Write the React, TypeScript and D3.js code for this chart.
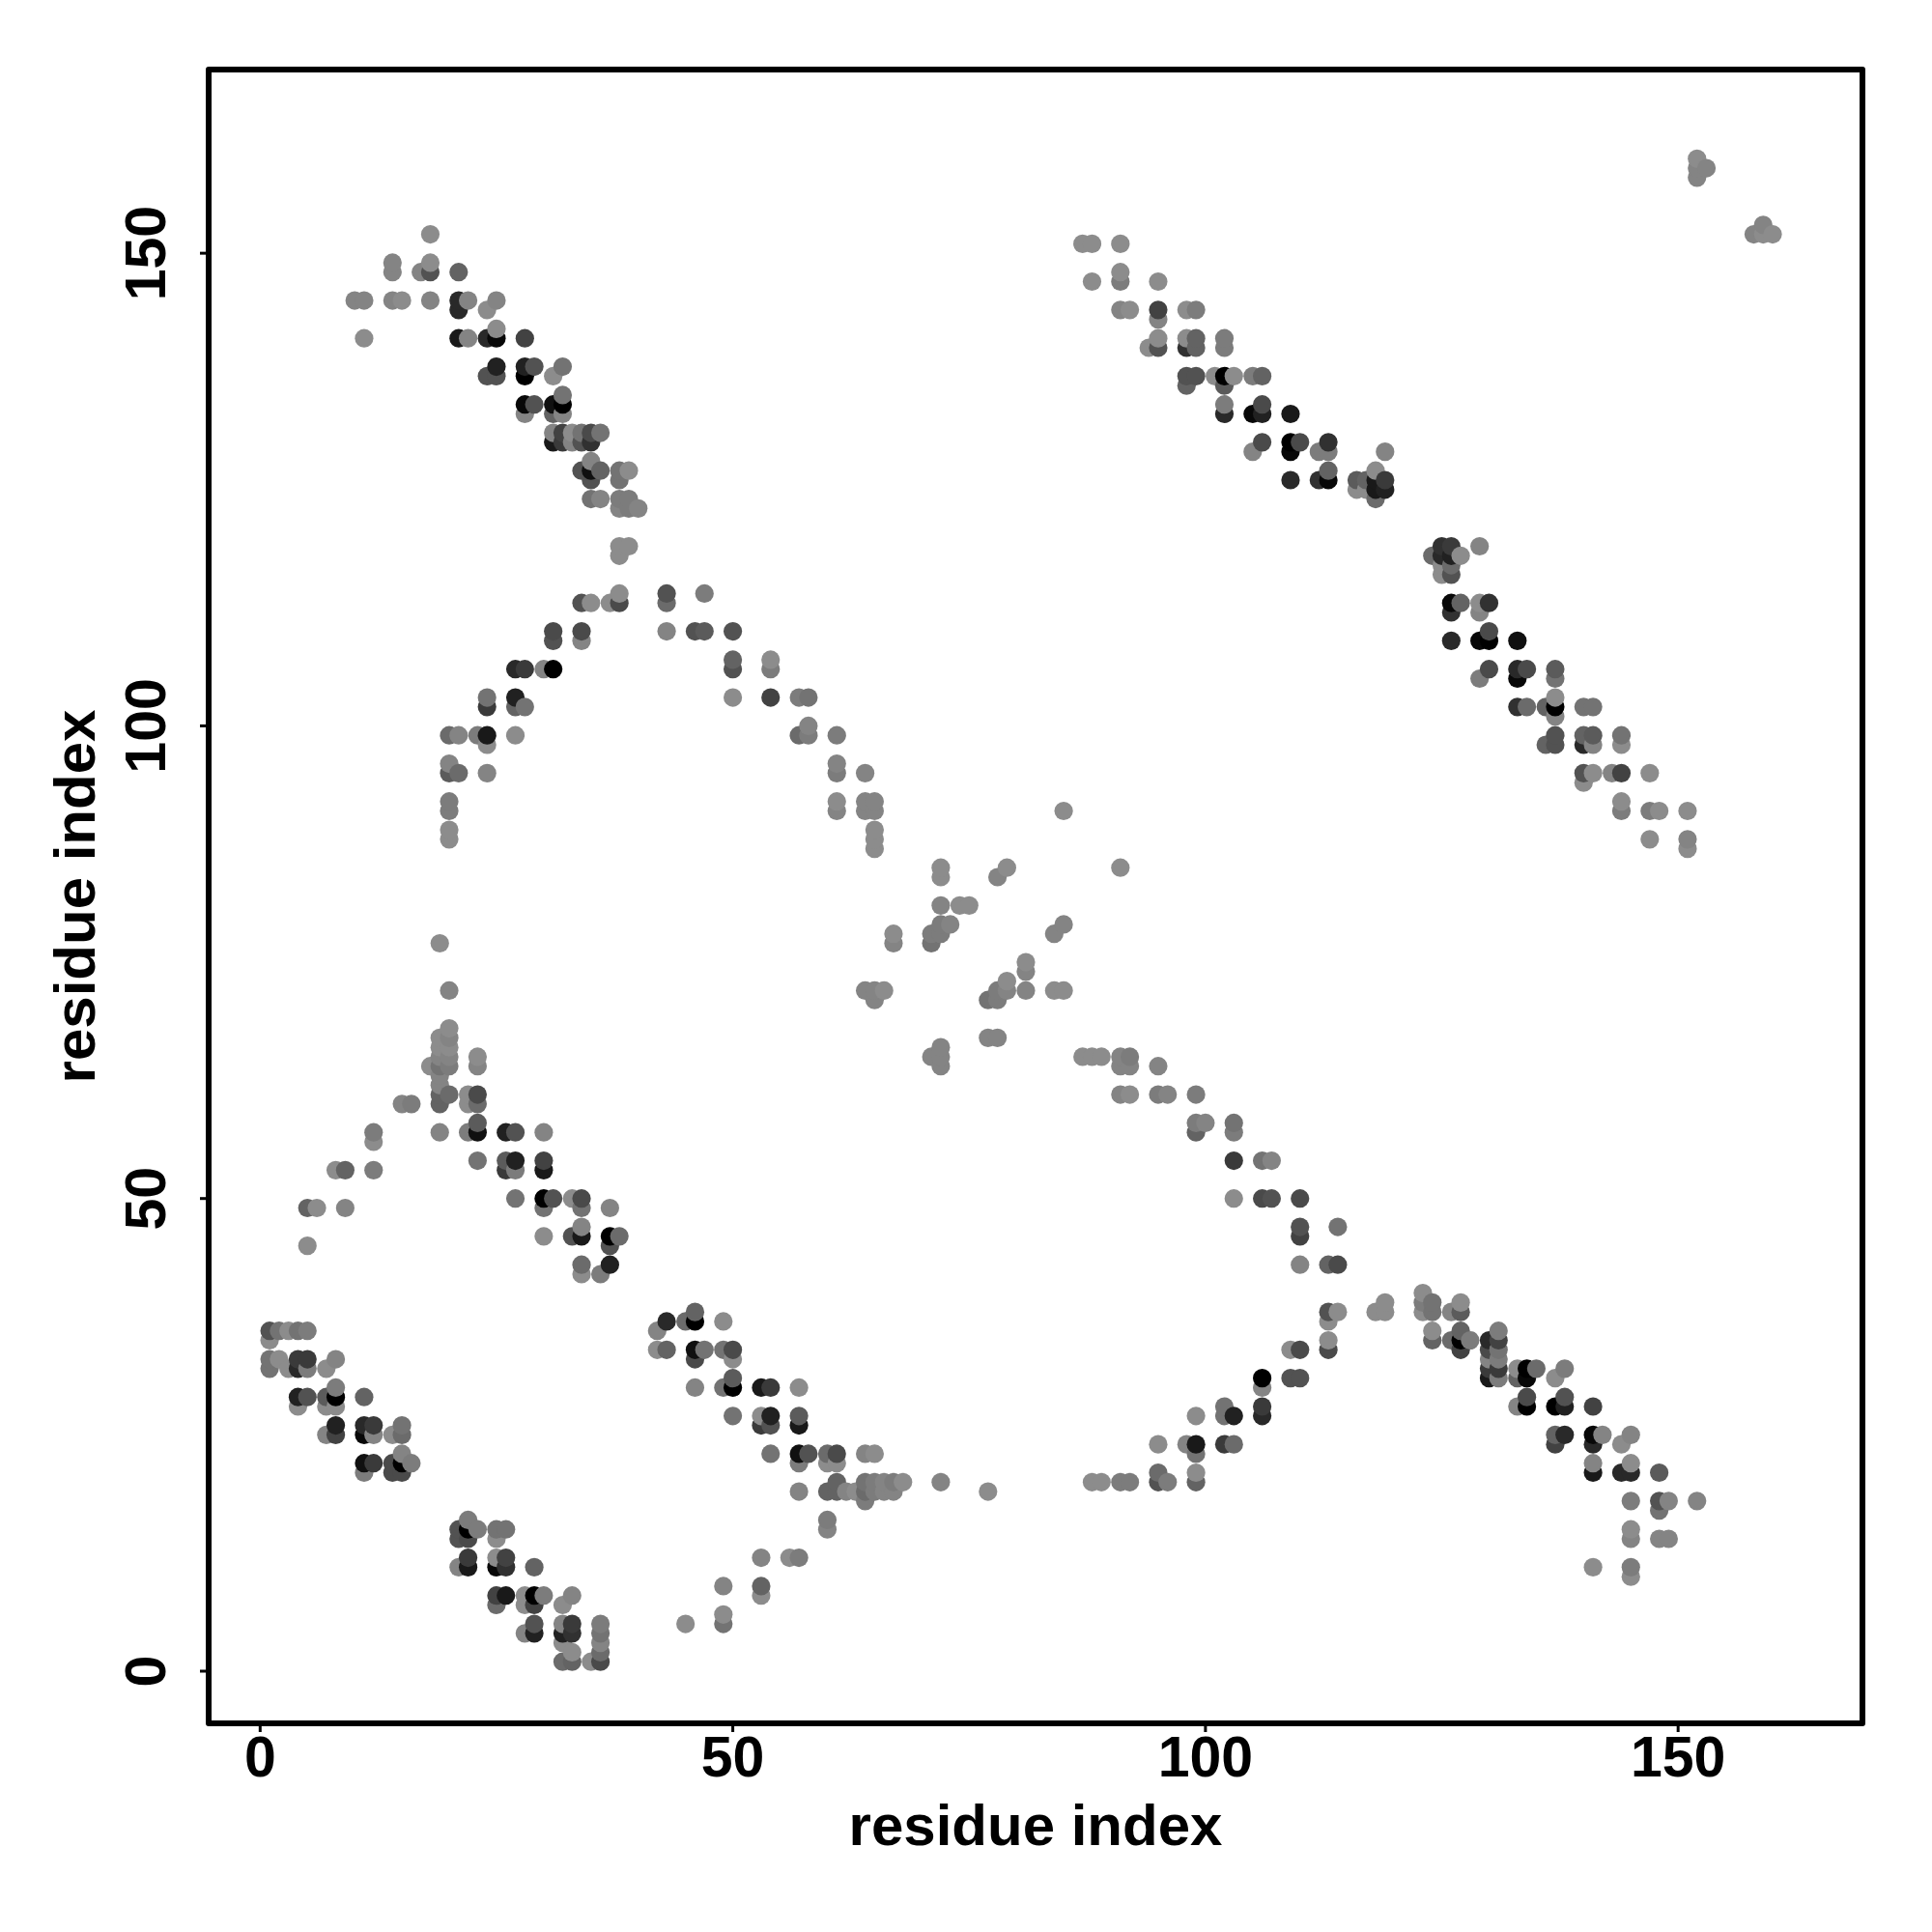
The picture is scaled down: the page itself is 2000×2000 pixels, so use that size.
import * as d3 from 'd3';

// [residue i, residue j, score]  score 0 = weak (mid grey) ... 17 = strong (black)
type Contact = [number, number, number];

const upperLeftStrand: Contact[] = [
  [18,152,0],[14,149,1],[14,148,1],[17,148,1],[18,148,7],[18,149,0],[21,148,5],
  [10,145,1],[11,145,1],[14,145,1],[15,145,0],[18,145,1],[21,145,12],[22,145,1],[25,145,1],
  [21,144,12],[24,144,0],
  [11,141,0],[21,141,14],[22,141,1],[24,141,12],[25,141,16],[28,141,9],[25,142,0],
  [25,138,13],[28,138,13],[29,138,7],[32,138,3],
  [24,137,7],[25,137,7],[28,137,17],[31,137,0],
  [32,135,3],
  [28,134,16],[29,134,7],[31,134,15],[32,134,17],
  [28,133,1],[31,133,5],[32,133,1],
  [31,131,1],[32,131,9],[33,131,0],[34,131,3],[35,131,8],[36,131,3],
  [31,130,14],[32,130,10],[33,130,1],[34,130,7],[35,130,11],
  [35,128,1],[34,127,7],[35,127,15],[36,127,5],[38,127,3],[39,127,0],
  [35,126,7],[38,126,3],
  [35,124,3],[36,124,1],[38,124,2],[39,124,2],
  [38,123,1],[39,123,2],[40,123,1],
  [38,119,0],[39,119,0],[38,118,0],
];

const upperArch: Contact[] = [
  [38,114,0],[43,114,7],[47,114,2],
  [34,113,7],[35,113,0],[37,113,0],[38,113,8],[43,113,4],
  [31,110,8],[34,110,8],[43,110,1],[46,110,7],[47,110,6],[50,110,7],
  [31,109,7],[34,109,1],
  [50,107,5],[54,107,0],
  [27,106,12],[28,106,10],[30,106,1],[31,106,17],[50,106,7],[54,106,2],
  [24,103,3],[27,103,13],[50,103,0],[54,103,9],[57,103,2],[58,103,3],
  [24,102,10],[27,102,5],[28,102,3],[58,100,1],
  [20,99,4],[21,99,1],[23,99,2],[24,99,14],[27,99,0],[57,99,4],[58,99,2],[61,99,2],
  [24,98,0],
  [20,96,1],[61,96,1],
  [20,95,6],[21,95,4],[24,95,1],[61,95,2],[64,95,1],
  [20,92,2],[61,92,0],[64,92,1],[65,92,1],
  [20,91,2],[61,91,1],[64,91,1],[65,91,1],
  [20,89,0],[65,89,0],[20,88,0],[65,88,0],[65,87,0],
];

const centreCross: Contact[] = [
  [85,91,0],[72,85,0],[72,84,0],[79,85,0],[78,84,1],[91,85,0],
  [72,81,1],[74,81,0],[75,81,0],
  [72,79,2],[73,79,1],[85,79,1],
  [67,78,0],[71,78,2],[72,78,2],[84,78,1],
  [67,77,1],[71,77,3],
  [81,75,0],[81,74,1],[79,73,0],
  [64,72,1],[65,72,1],[66,72,0],[78,72,2],[79,72,1],[81,72,1],[84,72,0],[85,72,0],
  [65,71,1],[77,71,3],[78,71,2],
  [77,67,1],[78,67,1],
  [72,66,1],[71,65,1],[72,65,1],[72,64,1],
];

const centreToLower: Contact[] = [
  [87,65,0],[88,65,0],[89,65,0],[91,65,1],[92,65,2],
  [91,64,1],[92,64,1],[95,64,1],
  [91,61,1],[92,61,0],[95,61,2],[96,61,1],[99,61,2],
  [99,58,2],[100,58,1],[103,58,3],
  [99,57,5],[103,57,2],
  [103,54,10],[106,54,3],[107,54,1],
  [103,50,0],[106,50,8],[107,50,7],[110,50,8],
  [110,47,7],[114,47,3],[110,46,9],
  [110,43,1],[113,43,5],[114,43,8],
];

const lowerRise: Contact[] = [
  [113,38,7],[114,38,0],[113,37,0],
  [113,35,0],[109,34,0],[110,34,8],[113,34,8],
  [106,31,17],[109,31,7],[110,31,7],[106,30,1],
  [102,28,3],[106,28,10],
  [99,27,0],[102,27,3],[103,27,13],[106,27,12],
  [95,24,0],[98,24,1],[99,24,14],[102,24,10],[103,24,4],[99,23,3],
  [95,21,4],[99,21,0],
  [88,20,0],[89,20,0],[91,20,2],[92,20,2],[95,20,7],[96,20,2],[99,20,5],
];

const lowerRightStrand: Contact[] = [
  [119,39,0],[118,38,0],[119,38,0],
  [123,40,0],[123,39,2],[124,39,3],[123,38,0],[124,38,3],[126,38,1],[127,39,0],[127,38,6],
  [124,36,0],[124,35,5],[127,36,5],[126,35,4],[127,35,17],[128,35,2],[127,34,9],
  [130,35,12],[131,36,2],[131,35,9],[130,34,8],[131,34,3],[130,33,1],[131,33,2],
  [130,32,10],[131,32,10],[130,31,14],[131,31,2],
  [133,32,0],[134,32,17],[135,32,4],[133,31,5],[134,31,16],[138,32,2],[137,31,0],
  [134,29,8],[138,29,7],[133,28,1],[134,28,17],[137,28,17],[138,28,13],[141,28,9],
  [137,25,5],[138,25,12],[141,25,16],[142,25,1],[145,25,1],[141,24,12],[137,24,9],[144,24,0],
  [141,22,1],[145,22,0],[141,21,14],[144,21,12],[145,21,12],[148,21,6],
  [145,18,2],[148,18,7],[149,18,1],[152,18,1],[148,17,3],
  [145,15,0],[145,14,1],[148,14,1],[149,14,1],
  [141,11,0],[145,11,2],[145,10,0],
];

const lowerMiddleStrand: Contact[] = [
  [46,38,5],[43,37,12],[45,37,4],[46,37,17],[49,37,0],[42,36,1],
  [42,34,0],[43,34,5],[46,34,15],[47,34,3],[49,34,3],[50,34,8],[46,33,8],[50,33,0],
  [50,31,6],[46,30,1],[49,30,3],[50,30,17],[53,30,14],[54,30,10],[57,30,0],
  [50,27,3],[53,27,0],[54,27,13],[57,27,6],[53,26,10],[54,26,7],[57,26,14],
  [54,23,3],[57,23,15],[58,23,7],[60,23,4],[61,23,8],[64,23,1],[65,23,0],
  [57,22,2],[60,22,0],[61,22,0],
  [61,20,5],[64,20,3],[65,20,2],[66,20,1],[67,20,2],[68,20,0],[72,20,1],
  [57,19,1],[60,19,5],[61,19,5],[62,19,1],[63,19,0],[64,19,4],[65,19,2],[66,19,1],[67,19,1],[77,19,0],
  [64,18,2],[60,16,2],[60,15,1],
  [53,12,1],[56,12,0],[57,12,2],
  [49,9,1],[53,9,5],[53,8,0],[49,6,0],[45,5,0],[49,5,3],
];

const leftPeak: Contact[] = [
  [19,77,0],[20,72,1],
  [20,68,0],[19,67,0],[20,67,1],[19,66,0],[20,66,0],[19,65,1],[20,65,1],
  [18,64,0],[19,64,3],[20,64,2],[19,63,1],[19,62,1],[19,61,5],[20,61,4],[19,60,5],
  [23,65,0],[23,64,1],[15,60,1],[16,60,2],
  [22,61,0],[23,61,8],[22,60,0],[23,60,4],
  [12,57,2],[12,56,0],[19,57,1],[22,57,2],[23,58,6],[23,57,15],[26,57,13],[27,57,7],[30,57,1],
  [23,54,3],[26,54,6],[27,54,13],[30,54,9],[26,53,10],[27,53,2],[30,53,14],
  [8,53,0],[9,53,5],[12,53,2],
  [5,49,5],[6,49,0],[9,49,1],[5,45,0],
  [27,50,3],[30,50,17],[31,50,7],[33,50,0],[34,50,8],[30,49,3],[34,49,3],[37,49,1],
  [34,47,1],[30,46,0],[33,46,7],[34,46,14],[37,46,17],[38,46,4],[37,45,7],
  [34,43,4],[37,43,13],[34,42,0],[36,42,2],
];

const bottomLeftA: Contact[] = [
  [1,36,7],[2,36,3],[3,36,0],[4,36,3],[5,36,2],[1,35,0],
  [1,33,3],[2,33,0],[4,33,10],[5,33,10],[8,33,1],
  [1,32,3],[3,32,0],[4,32,12],[5,32,2],[7,32,0],
  [4,29,13],[5,29,7],[7,29,6],[8,29,17],[8,30,2],[11,29,5],
  [4,28,0],[7,28,0],[8,28,0],
  [8,26,13],[11,26,12],[12,26,10],[15,26,3],
  [7,25,1],[8,25,9],[11,25,16],[12,25,1],[14,25,0],[15,25,4],
  [15,23,1],[11,22,15],[12,22,10],[14,22,8],[15,22,17],[16,22,2],
  [11,21,2],[14,21,8],[15,21,8],
];

const bottomLeftB: Contact[] = [
  [22,16,2],[21,15,7],[22,15,17],[23,15,2],[25,15,3],[26,15,3],
  [21,14,7],[22,14,8],[25,14,0],
  [22,12,10],[21,11,1],[22,11,14],[25,12,0],[26,12,9],[25,11,16],[26,11,11],[29,11,5],
  [25,8,9],[26,8,14],[28,8,0],[29,8,17],[30,8,2],[33,8,1],[32,7,0],[25,7,4],[28,7,0],[29,7,9],
  [29,5,7],[29,4,13],[28,4,1],[32,5,1],[33,5,10],[32,4,13],[33,4,11],[32,3,0],
  [36,5,2],[36,4,3],[36,3,1],[36,2,4],[33,2,0],[32,1,4],[33,1,5],[35,1,0],[36,1,8],
];

const upperRightStrand: Contact[] = [
  [87,151,0],[88,151,0],[91,151,0],
  [91,148,0],[88,147,0],[91,147,2],[95,147,0],
  [91,144,1],[92,144,0],[95,144,9],[98,144,0],[99,144,2],[95,143,1],
  [95,141,0],[98,141,0],[99,141,5],[102,141,2],
  [94,140,0],[95,140,7],[98,140,11],[99,140,5],[102,140,2],
  [98,137,7],[99,137,7],[101,137,0],[102,137,17],[103,137,0],[105,137,2],[106,137,5],
  [98,136,5],[102,136,6],
  [102,134,2],[106,134,8],[102,133,12],[105,133,16],[106,133,13],[109,133,14],
  [106,130,8],[109,130,17],[110,130,8],[113,130,11],
  [105,129,1],[109,129,16],[112,129,2],[113,129,2],[119,129,1],
  [113,127,5],[118,127,0],
  [109,126,12],[112,126,11],[113,126,16],[116,126,6],[117,126,5],[118,126,14],[119,126,10],
  [116,125,0],[117,125,0],[118,125,14],[119,125,13],[118,124,4],
];

const rightStrand: Contact[] = [
  [125,119,11],[126,119,10],[129,119,1],
  [124,118,4],[125,118,12],[126,118,13],[127,118,0],
  [125,117,0],[126,117,4],[125,116,0],[126,116,7],
  [126,113,16],[127,113,5],[129,113,0],[130,113,11],[126,112,11],[129,112,1],
  [126,109,12],[129,109,16],[130,109,17],[130,110,8],[133,109,15],
  [130,106,8],[129,105,2],[133,106,12],[134,106,8],[133,105,16],[137,106,6],[137,105,3],
  [133,102,11],[134,102,4],[136,102,5],[137,103,0],[137,102,17],[137,101,1],[140,102,3],[141,102,3],
  [137,99,7],[136,98,5],[137,98,7],[140,99,5],[141,99,6],[144,99,3],[140,98,12],[141,98,1],[144,98,0],
  [140,95,7],[141,95,0],[143,95,1],[144,95,9],[147,95,0],[140,94,0],
  [144,92,0],[144,91,2],[147,91,2],[148,91,0],[151,91,0],
  [147,88,0],[151,88,1],[151,87,0],
];

const cornerPoints: Contact[] = [
  [152,160,0],[152,159,1],[153,159,1],[152,158,1],
  [159,153,1],[158,152,1],[159,152,0],[160,152,0],
];

const tickValues = [0, 50, 100, 150];
const axisTitle = 'residue index';

// later residues were plotted on top
const contacts = d3
  .merge<Contact>([
    upperLeftStrand, upperArch, centreCross, centreToLower, lowerRise, lowerRightStrand,
    lowerMiddleStrand, leftPeak, bottomLeftA, bottomLeftB, upperRightStrand, rightStrand, cornerPoints,
  ])
  .sort((a, b) => a[0] - b[0] || a[1] - b[1]);

const left = 216;
const right = 1928;
const top = 72;
const bottom = 1784;
const font = '"Liberation Sans", Arial, sans-serif';

const x = d3.scaleLinear().domain([-5.447, 169.5]).range([left, right]);
const y = d3.scaleLinear().domain([-5.519, 169.43]).range([bottom, top]);
const grey = d3.scaleLinear().domain([0, 17]).range([140, 0]);

export default function App() {
  return (
    <svg
      width={2000}
      height={2000}
      style={{ position: 'absolute', left: 0, top: 0, background: '#fff' }}
      fontFamily={font}
      fontWeight="bold"
    >
      {contacts.map((d, i) => {
        const g = Math.round(grey(d[2]));
        return <circle key={i} cx={x(d[0])} cy={y(d[1])} r={9.6} fill={`rgb(${g},${g},${g})`} />;
      })}

      <rect
        x={left}
        y={top}
        width={right - left}
        height={bottom - top}
        fill="none"
        stroke="#000"
        strokeWidth={6}
        strokeLinejoin="round"
      />

      {tickValues.map(t => (
        <g key={t}>
          <line x1={x(t)} x2={x(t)} y1={bottom} y2={bottom + 9} stroke="#000" strokeWidth={3} />
          <text x={x(t)} y={1839} textAnchor="middle" fontSize={59}>{t}</text>
          <line x1={left - 9} x2={left} y1={y(t)} y2={y(t)} stroke="#000" strokeWidth={3} />
          <text transform={`translate(171,${y(t)}) rotate(-90)`} textAnchor="middle" fontSize={59}>{t}</text>
        </g>
      ))}

      <text x={(left + right) / 2} y={1910} textAnchor="middle" fontSize={60}>{axisTitle}</text>
      <text transform={`translate(98,${(top + bottom) / 2}) rotate(-90)`} textAnchor="middle" fontSize={60}>
        {axisTitle}
      </text>
    </svg>
  );
}
